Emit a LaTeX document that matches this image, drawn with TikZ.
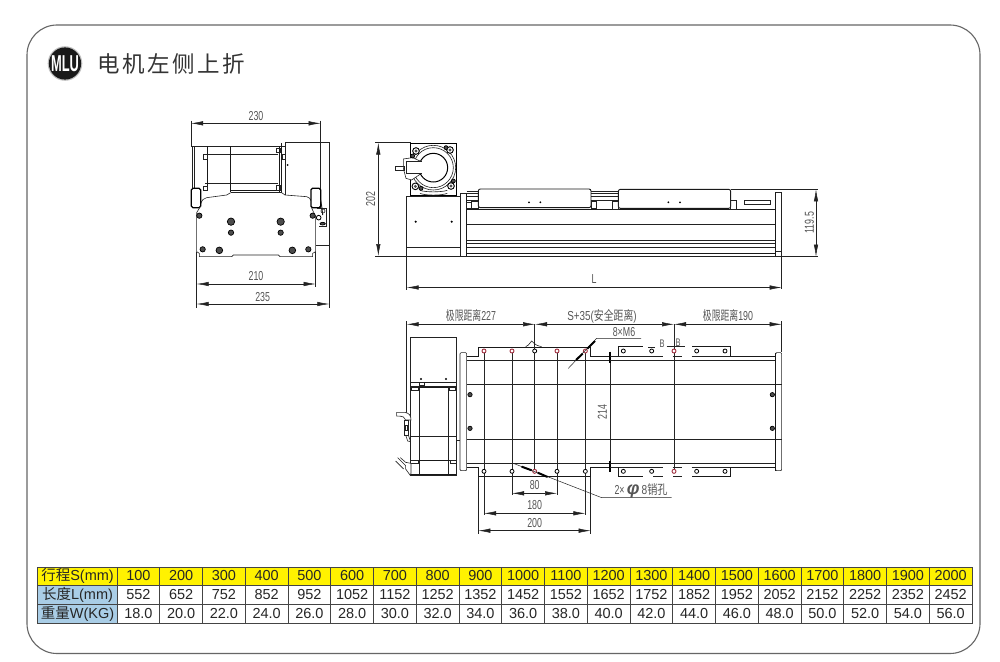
\documentclass[tikz,border=0pt]{standalone}
\usepackage{fontspec}
\usepackage{graphicx}
\setmainfont{Liberation Sans}
\newfontfamily\cjk{Noto Sans CJK SC}
\newfontfamily\cjktitle[LetterSpace=11]{Noto Sans CJK SC}
\usetikzlibrary{arrows.meta}
\definecolor{dimgrey}{HTML}{555555}
\definecolor{ink}{HTML}{222222}
\definecolor{hdr}{HTML}{FFF200}
\definecolor{rowblue}{HTML}{A9CDE6}
\definecolor{gridc}{HTML}{444444}
\definecolor{holered}{HTML}{A03040}
\newcommand{\nar}[1]{\scalebox{0.68}[1]{#1}}
\tikzset{
 ln/.style={line width=.6pt,draw=ink},
 thk/.style={line width=.9pt,draw=black!90},
 vline/.style={line width=.8pt,draw=black!85},
 fine/.style={line width=.4pt,draw=ink},
 dimln/.style={line width=.5pt,draw=ink},
 dimar/.style={dimln,{Latex[length=12pt,width=4.4pt]}-{Latex[length=12pt,width=4.4pt]}},
 dimtxt/.style={text=dimgrey,font=\fontsize{13}{13}\selectfont,inner sep=0pt},
 bolt/.style={draw=black,line width=.7pt,fill=black!70},
 hole/.style={draw=black,line width=.8pt,fill=white},
 redhole/.style={draw=holered,line width=.9pt,fill=white},
 cell/.style={draw=gridc,line width=.9pt,inner sep=0pt,minimum width=42.75pt,font=\fontsize{14.5}{14.5}\selectfont,text=black!85},
 headcell/.style={draw=gridc,line width=.9pt,inner sep=0pt,minimum width=79.5pt,font=\fontsize{14.5}{14.5}\selectfont,text=black!85},
 z1/.style={xshift=170pt,yshift=-100pt,x=.33333pt,y=-.33333pt},
 z2/.style={xshift=370pt,yshift=-125pt,x=.33333pt,y=-.33333pt},
 z3/.style={xshift=600pt,yshift=-160pt,x=.33333pt,y=-.33333pt},
 z4/.style={xshift=385pt,yshift=-305pt,x=.33333pt,y=-.33333pt},
 z5/.style={xshift=600pt,yshift=-305pt,x=.33333pt,y=-.33333pt},
}
\begin{document}
\begin{tikzpicture}[x=1pt,y=-1pt]
\useasboundingbox (0,0) rectangle (1000,661);
\fill[white] (0,0) rectangle (1000,661);
% page frame
\draw[line width=1.1pt,draw=black!60,rounded corners=30pt] (27,25) rectangle (980,653.5);
% title
\fill[black!25] (65,63.5) circle (17.3);
\node[circle,fill=black!90,minimum size=32pt,inner sep=0pt,text=white] (badge) at (65,63.5)
  {\fontsize{23}{23}\selectfont\scalebox{.56}[1]{\bfseries MLU}};
\node[anchor=west,inner sep=0pt,text=black!80] (title) at (97,63.5)
  {\cjktitle\fontsize{22.5}{22.5}\selectfont 电机左侧上折};

%%%%%%%%%%%%%%%%%%%% VIEW 1 (left end view)
\begin{scope}[z1]
 % dim 230
 \draw[dimar] (63,70) -- (452,70);
 \draw[dimln] (63,62) -- (63,140) (452,62) -- (452,325);
 \node[dimtxt] (t230) at (258,47) {\nar{230}};
 % motor
 \draw[ln] (68,138) -- (345,138) (105,163) -- (325,163) (105,250) -- (325,250);
 \draw[ln] (68,138) -- (68,265) (73,138) -- (73,265);
 \draw[thk] (112,138) -- (112,270) (182,138) -- (182,275) (328,138) -- (328,275) (335,130) -- (335,278);
 \draw[thk] (182,272) -- (330,272);
 \draw[ln] (182,278) -- (335,278);
 \draw[ln] (100,163) rectangle (112,178) (100,258) rectangle (112,270);
 \draw[ln] (320,145) rectangle (330,158) (320,255) rectangle (330,270);
 \draw[ln] (336,163) rectangle (345,178);
 \draw[ln] (67,150) -- (67,160) (67,238) -- (67,248);
 % side box
 \draw[ln] (345,127) -- (478,127) -- (478,435) -- (437,435);
 \draw[ln] (345,127) -- (345,285);
 \fill[black] (353,195) circle (3);
 % shoulder
 \draw[ln] (92,312) .. controls (96,300) and (100,295) .. (110,293) -- (170,285) -- (182,278);
 \draw[ln] (335,278) -- (345,285) -- (410,290) .. controls (418,292) and (421,296) .. (423,302);
 % blocks
 \draw[line width=1.2pt,draw=black,rounded corners=1.5pt,fill=white] (64,265) rectangle (92,323);
 \draw[line width=1.2pt,draw=black,rounded corners=1.5pt,fill=white] (423,265) rectangle (452,323);
 % plate
 \draw[ln] (92,318) -- (80,338) -- (80,455) -- (88,460) -- (88,470) -- (185,470) -- (190,465) -- (325,465) -- (330,470) -- (428,470) -- (428,460) -- (437,455) -- (437,350) -- (423,320);
 % right mechanism
 \draw[ln] (440,325) -- (470,325) -- (470,378) -- (447,378);
 \draw[thk] (452,300) -- (456,325) -- (458,345);
 \draw[hole] (446,353) circle (7);
 \draw[ln] (459,333) circle (6);
 \draw[bolt] (458,371) ellipse (8 and 4);
 % holes
 \foreach \a/\b/\r in {88/347/8,428/347/8,183/365/11,332/365/11,183/398/8,332/398/8,98/448/8,148/451/10,367/451/10,415/448/8}
   \draw[bolt] (\a,\b) circle (\r);
 % dims 210, 235
 \draw[dimln] (80,455) -- (80,625) (437,455) -- (437,560) (478,435) -- (478,625);
 \draw[dimar] (80,552) -- (437,552);
 \draw[dimar] (80,612) -- (478,612);
 \node[dimtxt] (t210) at (258,528) {\nar{210}};
 \node[dimtxt] (t235) at (278,590) {\nar{235}};
\end{scope}

%%%%%%%%%%%%%%%%%%%% VIEW 2 (side view)
\begin{scope}[z2]
 % dim 202
 \draw[dimln] (15,53) -- (122,53) (15,393) -- (272,393);
 \draw[dimar] (25,53) -- (25,393);
 \node[dimtxt,rotate=90] (t202) at (2,222) {\nar{202}};
 % motor box
 \draw[line width=1.2pt,draw=black] (122,55) rectangle (260,212);
 % ring
 \draw[ln,fill=white] (190,128) circle (67);
 \draw[ln] (190,128) circle (60);
 \draw[ln] (150,205) .. controls (165,212) and (215,212) .. (232,205);
 \draw[ln] (150,196) .. controls (165,202) and (215,202) .. (232,196);
 % clamp
 \draw[ln,fill=white] (100,130) -- (100,102) -- (128,98) -- (150,108) -- (165,108) -- (165,148) -- (150,148) -- (125,165) -- (108,160) -- cycle;
 \draw[line width=1pt,draw=black,fill=white] (190,128) circle (43);
 \fill[white] (128,112) rectangle (155,143);
 \draw[ln] (108,110) -- (155,110) (108,145) -- (155,145) (108,110) -- (108,145);
 \draw[ln] (76,124) rectangle (103,136);
 % corner screws
 \foreach \a/\b in {138/78,240/75,136/184,243/183}{
   \draw[line width=.9pt,draw=black,fill=white] (\a,\b) circle (10);
   \fill[black!70] (\a,\b) circle (5);
 }
 \foreach \a/\b in {128/93,228/68,250/168,153/190}
   \draw[bolt] (\a,\b) circle (6);
 % lower box
 \draw[ln] (110,215) rectangle (270,393);
 \draw[ln] (110,368) -- (270,368);
 \fill[black] (137,290) circle (3.5) (245,290) circle (3.5);
 % end plate
 \draw[ln] (270,205) rectangle (290,393);
 \draw[thk] (288,205) -- (288,393);
 % first carriage
 \draw[thk,rounded corners=2pt] (325,192) rectangle (663,248);
 \fill[black] (477,232) circle (3) (511,232) circle (3);
 % rails and small blocks
 \draw[ln] (290,200) -- (325,200) (290,206) -- (325,206) (290,215) -- (325,215) (290,227) -- (325,227);
 \draw[ln] (663,200) -- (1030,200) (663,206) -- (1030,206) (663,215) -- (1030,215) (663,227) -- (1030,227);
 \draw[ln] (305,228) rectangle (325,250) (663,228) rectangle (680,250);
 \draw[ln] (290,232) rectangle (305,250);
 \node[dimtxt] (tL) at (672,462) {\nar{L}};
 % dim L extension
 \draw[dimln] (110,393) -- (110,495);
\end{scope}
% body lines, side view
\draw[thk] (466.7,209.3) -- (775.7,209.3);
\draw[ln] (466.7,224.6) -- (775.7,224.6);
\draw[ln] (466.7,240) -- (775.7,240);
\draw[ln] (466.7,243) -- (775.7,243);
\draw[ln] (466.7,247.6) -- (775.7,247.6);
\draw[thk] (466.7,253) -- (775.7,253);
\draw[ln] (466.7,256) -- (781.7,256);
% dim L
\draw[dimar] (406.7,287.5) -- (781.7,287.5);
\begin{scope}[z3]
 % second carriage
 \draw[thk,rounded corners=2pt,fill=white] (55,88) rectangle (392,145);
 \fill[black] (205,127) circle (3) (240,127) circle (3);
 \draw[ln] (38,125) rectangle (55,148) (392,122) rectangle (408,148);
 \draw[ln] (433,122) rectangle (510,133);
 % end plate
 \draw[thk] (527,97) -- (527,288);
 \draw[ln] (527,97) -- (545,97) -- (545,290) -- (527,290);
 \draw[ln] (527,275) -- (545,275);
 \draw[thk] (136,145) -- (166,145);
 % dims
 \draw[dimln] (392,88) -- (655,88) (545,290) -- (655,290) (545,290) -- (545,388);
 \draw[dimar] (648,88) -- (648,290);
 \node[dimtxt,rotate=90] (t1195) at (628,188) {\nar{119.5}};
\end{scope}

%%%%%%%%%%%%%%%%%%%% VIEW 3 (plan view)
% top dims
\draw[dimar] (406.7,324.3) -- (535,324.3);
\draw[dimar] (535,324.3) -- (674,324.3);
\draw[dimar] (674,324.3) -- (781.7,324.3);
\draw[dimln] (406.7,321) -- (406.7,416) (781.7,321) -- (781.7,352);
\node[dimtxt] (t227) at (471,316) {\nar{{\cjk 极限距离}227}};
\node[dimtxt] (tS) at (602,316) {\scalebox{.76}[1]{S+35({\cjk 安全距离})}};
\node[dimtxt] (t190) at (728,316) {\nar{{\cjk 极限距离}190}};
\begin{scope}[z4]
 % motor
 \draw[ln] (77,98) rectangle (215,232);
 \draw[ln] (77,232) rectangle (215,510);
 \draw[ln] (77,245) -- (215,245) (77,395) -- (215,395);
 \draw[ln] (103,245) -- (103,510) (190,245) -- (190,510);
 \draw[thk] (103,248) -- (190,248) (85,465) -- (207,465) (78,507) -- (213,507);
 \draw[ln] (80,248) rectangle (100,257) (192,248) rectangle (212,257);
 \draw[ln] (75,465) rectangle (100,475) (195,465) rectangle (215,475);
 \fill[black] (108,222) circle (3.5) (183,222) circle (3.5);
 \draw[ln] (102,232) rectangle (118,240);
 \draw[ln] (215,405) -- (225,405);
 % handles
 \draw[ln,fill=white] (35,322) -- (60,322) .. controls (72,325) and (78,330) .. (78,345) -- (62,345) .. controls (60,337) and (55,333) .. (35,333) -- cycle;
 \draw[ln] (57,345) rectangle (70,390);
 \draw[ln] (60,360) rectangle (68,375);
 \draw[ln] (70,390) -- (77,410) (62,390) -- (68,408) -- (77,410);
 \draw[ln,fill=white] (38,458) -- (62,482) -- (62,492) -- (75,510) -- (78,505) -- (78,475) -- (62,472) -- (46,458);
 \draw[ln] (32,468) -- (56,492);
 % end plate
 \draw[ln,rounded corners=1pt] (225,143) rectangle (245,497);
 % body lines
 \draw[thk] (245,155) -- (280,155) -- (280,127) -- (617,127) -- (617,153) -- (700,153);
 \draw[thk] (245,487) -- (280,487) -- (280,515) -- (617,515) -- (617,487) -- (700,487);
 \draw[ln] (245,165) -- (700,165) (245,237) -- (700,237) (245,403) -- (700,403) (245,476) -- (700,476);
 \draw[bolt] (255,269) circle (6.5) (255,370) circle (6.5);
 % vertical lines
 \draw[vline] (297,138) -- (297,630);
 \draw[vline] (381,138) -- (381,570);
 \draw[vline] (449,58) -- (449,500);
 \draw[vline] (516,138) -- (516,570);
 \draw[vline] (601,138) -- (601,630);
 \draw[dimln] (280,515) -- (280,686) (617,515) -- (617,686);
 % small bump on dim
 \draw[ln] (422,125) .. controls (435,120) and (435,110) .. (440,108) .. controls (445,110) and (445,120) .. (470,125);
 % holes top
 \foreach \a in {297,381,516,601}
   \draw[redhole] (\a,138) circle (6);
 \draw[hole] (449,138) circle (6);
 \foreach \a in {297,381,516,601}
   \draw[hole] (\a,499) circle (6);
 \draw[redhole] (449,499) circle (6);
 % dims 80,180,200
 \draw[dimar] (381,565) -- (516,565);
 \draw[dimar] (297,625) -- (601,625);
 \draw[dimar] (280,677) -- (617,677);
 \node[dimtxt] (t80) at (449,540) {\nar{80}};
 \node[dimtxt] (t180) at (449,600) {\nar{180}};
 \node[dimtxt] (t200) at (449,654) {\nar{200}};
 % leader 8xM6
 \draw[dimln] (550,190) -- (635,100) -- (768,100);
 \draw[line width=2pt,draw=black] (573,165) -- (593,146) (607,131) -- (630,108);
 % leader 2xphi8
 \draw[dimln] (385,475) -- (650,578) -- (860,578);
 \draw[line width=2pt,draw=black] (410,485) -- (440,496) (458,503) -- (488,516);
 % dim 214
 \draw[vline] (675,155) -- (675,485);
 \draw[line width=2pt,draw=black] (675,140) -- (675,173) (675,467) -- (675,500);
 \node[dimtxt,rotate=90] (t214) at (652,320) {\nar{214}};
\end{scope}
\begin{scope}[z5]
 % end plate
 \draw[ln,rounded corners=1pt] (527,143) rectangle (545,497);
 % body lines
 \draw[thk] (390,153) -- (527,153) (390,487) -- (527,487);
 \draw[ln] (30,165) -- (527,165) (30,237) -- (545,237) (30,403) -- (545,403) (30,476) -- (527,476);
 \draw[thk] (527,143) -- (527,497);
 \draw[bolt] (517,269) circle (6.5) (517,370) circle (6.5);
 % second carriage flange
 \draw[thk] (55,153) -- (55,125) -- (130,125);
 \draw[thk] (390,153) -- (390,125) -- (275,125);
 \draw[ln] (145,127) -- (165,127) (200,125) -- (255,125);
 \draw[ln] (30,153) -- (188,153) (218,153) -- (245,153) (275,153) -- (390,153);
 \draw[ln] (30,487) -- (188,487) (218,487) -- (245,487) (275,487) -- (390,487);
 \draw[thk] (55,487) -- (55,515) -- (130,515);
 \draw[thk] (390,487) -- (390,515) -- (275,515);
 \draw[ln] (160,515) -- (188,515) (220,515) -- (245,515);
 \draw[vline] (222,58) -- (222,500);
 \foreach \a in {70,155,290,375}{
   \draw[hole] (\a,138) circle (6);
   \draw[hole] (\a,499) circle (6);
 }
 \draw[redhole] (222,138) circle (6);
 \draw[redhole] (222,499) circle (6);
 \node[dimtxt,font=\fontsize{11}{11}\selectfont] (tB1) at (186,116) {\nar{B}};
 \node[dimtxt,font=\fontsize{11}{11}\selectfont] (tB2) at (234,112) {\nar{B}};
 \node[dimtxt] (tM6) at (72,80) {\nar{8×M6}};
 \node[dimtxt,anchor=west] (tphi) at (43,557) {\nar{2×}\,{\fontsize{18}{18}\selectfont\bfseries\textit{φ}}\,\scalebox{.78}[1]{8{\cjk 销孔}}};
\end{scope}

%%%%%%%%%%%%%%%%%%%% TABLE
\node[headcell,fill=hdr,minimum height=18pt] (h1) at (77.5,576) {{\cjk 行程}S(mm)};
\node[headcell,fill=rowblue,minimum height=19pt] (h2) at (77.5,594.5) {{\cjk 长度}L(mm)};
\node[headcell,fill=rowblue,minimum height=19pt] (h3) at (77.5,613.5) {{\cjk 重量}W(KG)};
\foreach \i in {1,...,20}{
  \pgfmathsetmacro{\cx}{117+42.75*(\i-.5)}
  \pgfmathtruncatemacro{\vs}{100*\i}
  \pgfmathtruncatemacro{\vl}{452+100*\i}
  \pgfmathtruncatemacro{\vw}{16+2*\i}
  \node[cell,fill=hdr,minimum height=18pt] (a\i) at (\cx,576) {\vs};
  \node[cell,minimum height=19pt] (b\i) at (\cx,594.5) {\vl};
  \node[cell,minimum height=19pt] (c\i) at (\cx,613.5) {\vw.0};
}
\end{tikzpicture}
\end{document}
